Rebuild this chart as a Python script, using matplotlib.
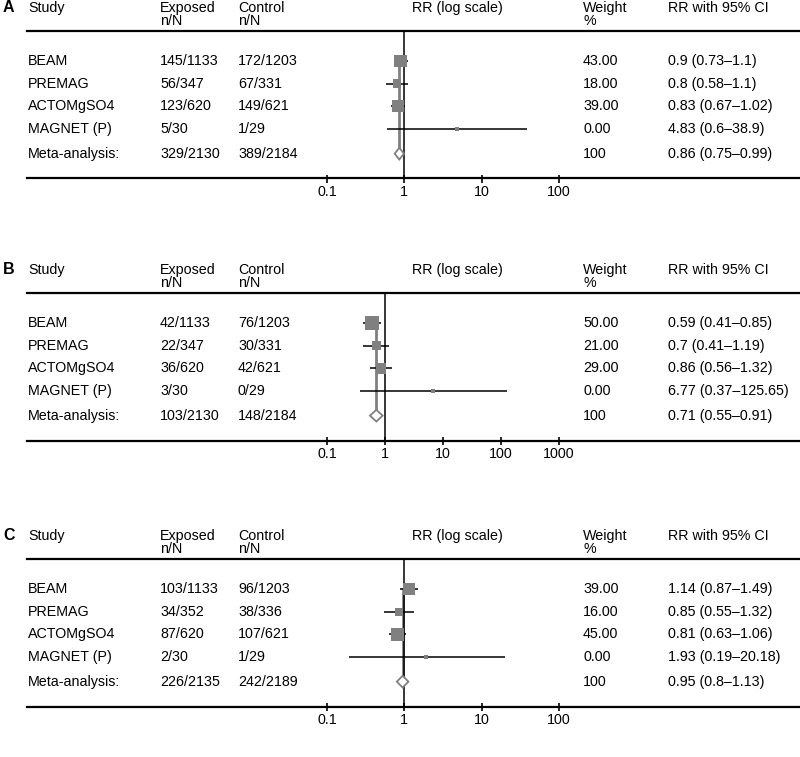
import matplotlib
matplotlib.use("Agg")
import matplotlib.pyplot as plt
from matplotlib.transforms import blended_transform_factory

plt.rcParams['font.family'] = ['Liberation Sans', 'DejaVu Sans']

# Datos de los tres paneles
studies = ["BEAM", "PREMAG", "ACTOMgSO4", "MAGNET (P)", "Meta-analysis:"]

exposed_a = ["145/1133", "56/347", "123/620", "5/30", "329/2130"]
control_a = ["172/1203", "67/331", "149/621", "1/29", "389/2184"]
weight_a = [43, 18, 39, 0]
rr_a = [0.9, 0.8, 0.83, 4.83, 0.86]
lo_a = [0.73, 0.58, 0.67, 0.6, 0.75]
hi_a = [1.1, 1.1, 1.02, 38.9, 0.99]
ticks_a = [0.1, 1, 10, 100]

exposed_b = ["42/1133", "22/347", "36/620", "3/30", "103/2130"]
control_b = ["76/1203", "30/331", "42/621", "0/29", "148/2184"]
weight_b = [50, 21, 29, 0]
rr_b = [0.59, 0.7, 0.86, 6.77, 0.71]
lo_b = [0.41, 0.41, 0.56, 0.37, 0.55]
hi_b = [0.85, 1.19, 1.32, 125.65, 0.91]
ticks_b = [0.1, 1, 10, 100, 1000]

exposed_c = ["103/1133", "34/352", "87/620", "2/30", "226/2135"]
control_c = ["96/1203", "38/336", "107/621", "1/29", "242/2189"]
weight_c = [39, 16, 45, 0]
rr_c = [1.14, 0.85, 0.81, 1.93, 0.95]
lo_c = [0.87, 0.55, 0.63, 0.19, 0.8]
hi_c = [1.49, 1.32, 1.06, 20.18, 1.13]
ticks_c = [0.1, 1, 10, 100]

W, H = 800, 757
fig = plt.figure(figsize=(W / 100, H / 100), dpi=100)

rows = [0, 1, 2, 3, 4.1]
ytop, ybot = -1.33, 5.2
grey = '#808080'
fs = 10.3


def fx(px):
    return px / W


def panel(label, top_px, exposed, control, weight, rr, lo, hi, ticks):
    h_px = 147.5
    ax = fig.add_axes([fx(327), 1 - (top_px + h_px) / H, fx(232), h_px / H])
    ax.set_xscale('log')
    ax.set_xlim(ticks[0], ticks[-1])
    ax.set_ylim(ybot, ytop)
    for s in ax.spines.values():
        s.set_visible(False)
    ax.set_yticks([])
    ax.minorticks_off()
    ax.set_xticks(ticks)
    ax.set_xticklabels([f"{t:g}" for t in ticks], fontsize=fs)
    ax.tick_params(axis='x', direction='inout', length=6, width=1.2, pad=2)

    tr = blended_transform_factory(fig.transFigure, ax.transData)
    # lineas horizontales de encabezado y pie
    for yy in (ytop, ybot):
        ax.plot([fx(27), 1], [yy, yy], color='black', lw=1.6,
                transform=tr, clip_on=False)
    ax.axvline(1, color='black', lw=1.1, zorder=2)

    n = len(weight)
    # linea gris del estimado combinado
    ax.plot([rr[-1], rr[-1]], [rows[0], rows[-1]], color=grey, lw=2, zorder=1)
    ax.hlines(rows[:n], lo[:n], hi[:n], color='black', lw=1.1, zorder=3)
    sizes = [max(2.0 * w, 9) for w in weight]
    ax.scatter(rr[:n], rows[:n], s=sizes, marker='s', color=grey,
               edgecolors='none', zorder=4)
    ym = rows[-1]
    ax.fill([lo[-1], rr[-1], hi[-1], rr[-1]],
            [ym, ym - 0.26, ym, ym + 0.26],
            facecolor='white', edgecolor=grey, lw=1.3, zorder=5)

    # encabezados
    y1, y2 = ytop - 1.02, ytop - 0.44
    fig_text = dict(transform=tr, fontsize=fs, va='center', ha='left')
    ax.text(fx(3), y1, label, transform=tr, fontsize=11.5, fontweight='bold',
            va='center', ha='left')
    ax.text(fx(28), y1, "Study", **fig_text)
    ax.text(fx(160), y1, "Exposed", **fig_text)
    ax.text(fx(160), y2, "n/N", **fig_text)
    ax.text(fx(238), y1, "Control", **fig_text)
    ax.text(fx(238), y2, "n/N", **fig_text)
    ax.text(fx(457), y1, "RR (log scale)", transform=tr, fontsize=fs,
            va='center', ha='center')
    ax.text(fx(583), y1, "Weight", **fig_text)
    ax.text(fx(583), y2, "%", **fig_text)
    ax.text(fx(668), y1, "RR with 95% CI", **fig_text)

    wtxt = [f"{w:.2f}" for w in weight] + ["100"]
    for i, y in enumerate(rows):
        ax.text(fx(28), y, studies[i], **fig_text)
        ax.text(fx(160), y, exposed[i], **fig_text)
        ax.text(fx(238), y, control[i], **fig_text)
        ax.text(fx(583), y, wtxt[i], **fig_text)
        ax.text(fx(668), y, f"{rr[i]:g} ({lo[i]:g}\u2013{hi[i]:g})", **fig_text)
    return ax


panel("A", 31, exposed_a, control_a, weight_a, rr_a, lo_a, hi_a, ticks_a)
panel("B", 293, exposed_b, control_b, weight_b, rr_b, lo_b, hi_b, ticks_b)
panel("C", 559, exposed_c, control_c, weight_c, rr_c, lo_c, hi_c, ticks_c)

fig.savefig("out.png", dpi=100)
